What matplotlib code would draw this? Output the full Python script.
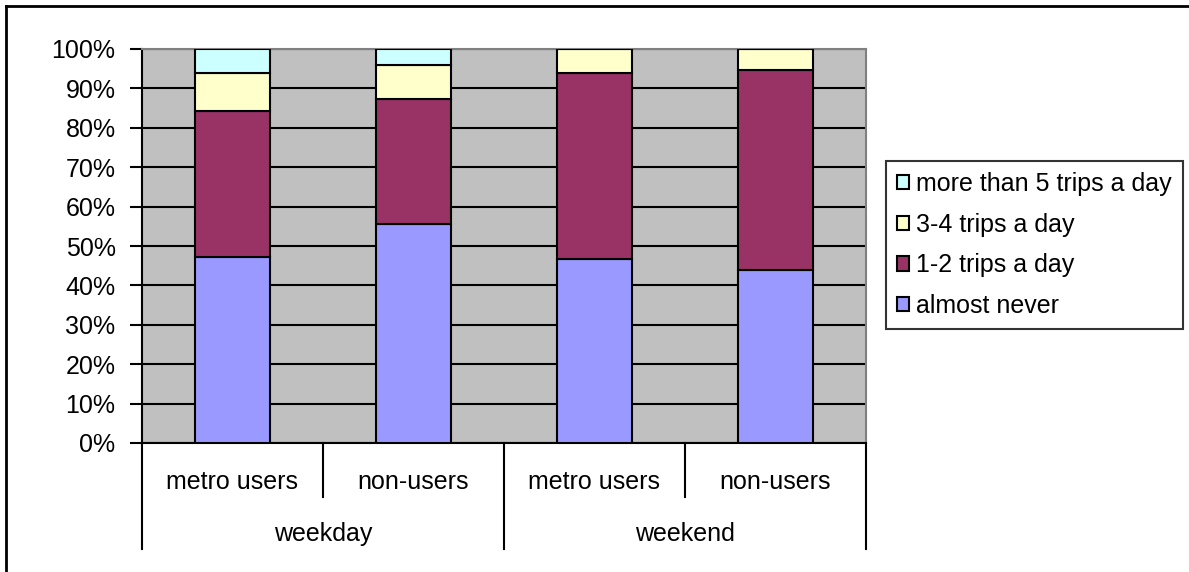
import matplotlib.pyplot as plt
from matplotlib.lines import Line2D
import numpy as np

plt.rcParams['font.family'] = ['Liberation Sans', 'DejaVu Sans']

groups = ['weekday', 'weekend']
users = ['metro users', 'non-users', 'metro users', 'non-users']
series = ['almost never', '1-2 trips a day', '3-4 trips a day', 'more than 5 trips a day']
almost_never = [47.3, 55.6, 46.7, 43.8]
one_two = [37.0, 31.7, 47.1, 50.9]
three_four = [9.5, 8.6, 6.2, 5.3]
more_five = [6.2, 4.1, 0.0, 0.0]
colors = ['#9999FF', '#993366', '#FFFFCC', '#CCFFFF']

fs = 18

fig = plt.figure(figsize=(11.89, 5.72), dpi=100)
ax = fig.add_axes([142 / 1189, 1 - 443 / 572, 724 / 1189, 394 / 572])
ax.set_facecolor('#C0C0C0')

x = np.arange(len(users))
bottom = np.zeros(len(users))
for name, vals, c in zip(series, [almost_never, one_two, three_four, more_five], colors):
    ax.bar(x, vals, 0.41, bottom=bottom, color=c, edgecolor='black',
           linewidth=1.5, label=name, zorder=3)
    bottom += np.array(vals)

ax.set_xlim(-0.5, 3.5)
ax.set_ylim(0, 100)
ax.set_yticks(range(0, 101, 10))
ax.set_yticklabels([f'{v}%' for v in range(0, 101, 10)], fontsize=fs)
ax.tick_params(axis='y', length=9, width=1.5, pad=10)
ax.set_xticks([])
ax.yaxis.grid(True, color='black', linewidth=1.5, zorder=1)
ax.set_axisbelow(True)

for side in ['top', 'right']:
    ax.spines[side].set_color('#808080')
    ax.spines[side].set_linewidth(1.5)
for side in ['left', 'bottom']:
    ax.spines[side].set_color('black')
    ax.spines[side].set_linewidth(1.5)

# two-level category axis
trans = ax.get_xaxis_transform()
for i, lab in enumerate(users):
    ax.text(i, -0.098, lab, transform=trans, ha='center', va='center', fontsize=fs)
for j, g in enumerate(groups):
    ax.text(2 * j + 0.5, -0.23, g, transform=trans, ha='center', va='center', fontsize=fs)
for sx in [-0.5, 0.5, 1.5, 2.5, 3.5]:
    low = -0.269 if sx in (-0.5, 1.5, 3.5) else -0.137
    ax.add_line(Line2D([sx, sx], [0, low], transform=trans, color='black',
                       linewidth=1.5, clip_on=False))

handles, labels = ax.get_legend_handles_labels()
leg = fig.legend(handles[::-1], labels[::-1], loc='center left',
                 bbox_to_anchor=(886 / 1189, 1 - 245 / 572), fontsize=fs,
                 frameon=True, fancybox=False, edgecolor='black',
                 handlelength=0.5, handleheight=0.5, handletextpad=0.3,
                 labelspacing=0.67, borderpad=0.42, borderaxespad=0)
leg.get_frame().set_linewidth(1.5)

# chart frame
fig.add_artist(Line2D([6 / 1189, 1], [1 - 6 / 572, 1 - 6 / 572], transform=fig.transFigure,
                      color='black', linewidth=2))
fig.add_artist(Line2D([6 / 1189, 6 / 1189], [0, 1 - 6 / 572], transform=fig.transFigure,
                      color='black', linewidth=2))

fig.savefig('out.png', dpi=100)
